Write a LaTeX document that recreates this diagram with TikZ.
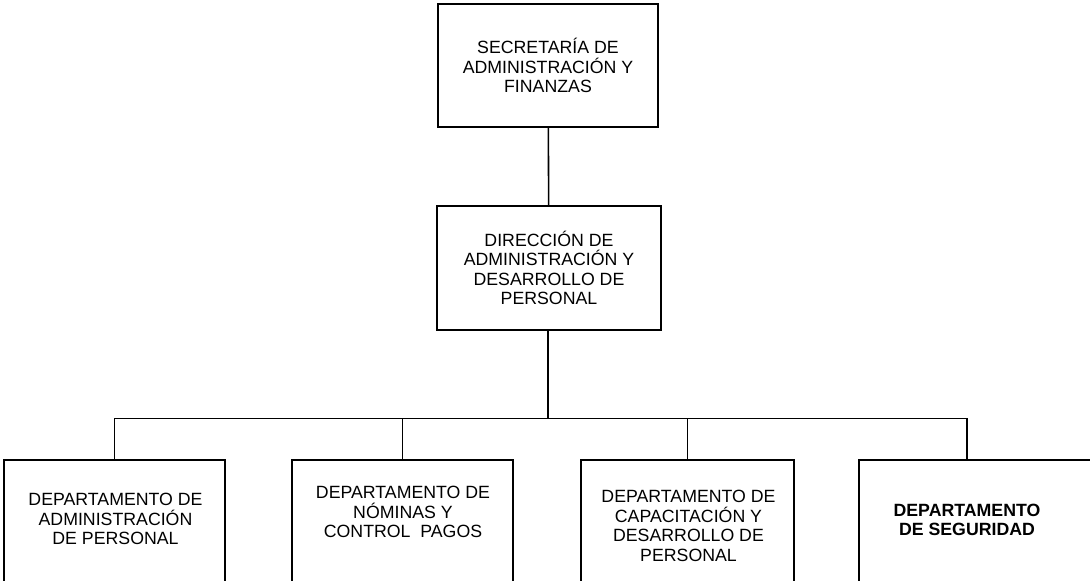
\documentclass[tikz,border=0pt]{standalone}
\usepackage{fontspec}
\setmainfont{Liberation Sans}
\begin{document}
\begin{tikzpicture}[x=0.75pt,y=-0.75pt,
		box/.style={draw,line width=1.2pt,inner sep=0pt,align=center,font=\fontsize{13.3}{14.6}\selectfont},
		txt/.style={align=center,font=\fontsize{13.3}{14.6}\selectfont}]
			\useasboundingbox (0,0) rectangle (1090,581);
			\clip (0,0) rectangle (1090,581);
			% upper levels
			\node[box,minimum width=165pt,minimum height=92.25pt] (sec) at (548,65.5) {SECRETARÍA DE\\ADMINISTRACIÓN Y\\FINANZAS};
			\node[box,minimum width=168pt,minimum height=93pt] (dir) at (549,268) {DIRECCIÓN DE\\ADMINISTRACIÓN Y\\DESARROLLO DE\\PERSONAL};
			% departments, cut by the lower edge
			\node[box,anchor=north,minimum width=165.75pt,minimum height=97.5pt] (dep1) at (114.5,459) {};
			\node[box,anchor=north,minimum width=165.75pt,minimum height=97.5pt] (dep2) at (402.5,459) {};
			\node[box,anchor=north,minimum width=159.75pt,minimum height=97.5pt] (dep3) at (687.5,459) {};
			\node[box,anchor=north,minimum width=180.75pt,minimum height=97.5pt] (dep4) at (979.5,459) {};
			\node[txt] (dep1t) at (115.5,519) {DEPARTAMENTO DE\\ADMINISTRACIÓN\\DE PERSONAL};
			\node[txt] (dep2t) at (403,512) {DEPARTAMENTO DE\\NÓMINAS Y\\CONTROL \ PAGOS};
			\node[txt] (dep3t) at (688.5,526) {DEPARTAMENTO DE\\CAPACITACIÓN Y\\DESARROLLO DE\\PERSONAL};
			\node[txt,font=\fontsize{13.3}{14.6}\selectfont\bfseries] (dep4t) at (967,520) {DEPARTAMENTO\\DE SEGURIDAD};
			% connectors
			\coordinate (bus) at (548,418.5);
			\draw[line width=1.2pt] (sec) -- (dir);
			\draw[line width=1.2pt] (dir.south -| bus) -- (bus);
			\foreach \d in {dep1,dep2,dep3}
				\draw[line width=1.2pt] (\d.north) |- (bus);
			\draw[line width=1.2pt] (dep4.north -| dep4t) |- (bus);
		\end{tikzpicture}
\end{document}
